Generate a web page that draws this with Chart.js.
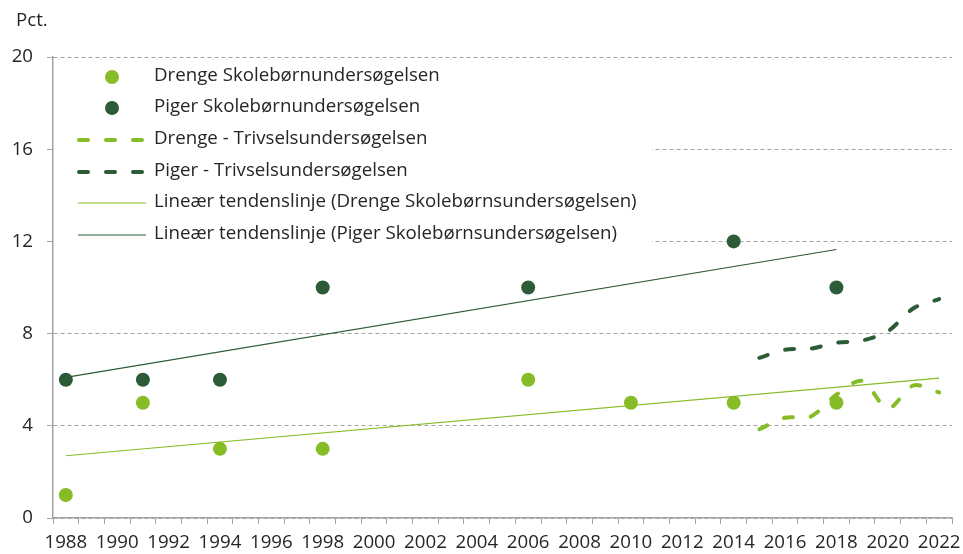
<!DOCTYPE html>
<html lang="da">
<head>
<meta charset="utf-8">
<title>Skolebørn og trivsel</title>
<script src="https://cdn.jsdelivr.net/npm/chart.js@4.4.1/dist/chart.umd.min.js"></script>
<style>
  html, body { margin: 0; padding: 0; background: #fff; }
  #wrap { width: 963px; height: 554px; }
</style>
</head>
<body>
<div id="wrap"><canvas id="chart" width="963" height="554"></canvas></div>
<script>
"use strict";

// survey years and values (pct.)
const skoleYears = [1988, 1991, 1994, 1998, 2006, 2010, 2014, 2018];
const drengeSkole = [1, 5, 3, 3, 6, 5, 5, 5];
const pigerSkoleYears = [1988, 1991, 1994, 1998, 2006, 2014, 2018];
const pigerSkole = [6, 6, 6, 10, 10, 12, 10];

const trivselYears = [2015, 2016, 2017, 2018, 2019, 2020, 2021, 2022];
const drengeTrivsel = [3.85, 4.35, 4.4, 5.35, 5.95, 4.75, 5.75, 5.45];
const pigerTrivsel = [6.95, 7.3, 7.35, 7.6, 7.7, 8.1, 9.1, 9.5];

// trend line end points
const drengeTrendYears = [1988, 2022];
const drengeTrend = [2.7, 6.07];
const pigerTrendYears = [1988, 2018];
const pigerTrend = [6.1, 11.65];

const xLabelYears = [1988, 1990, 1992, 1994, 1996, 1998, 2000, 2002, 2004, 2006,
  2008, 2010, 2012, 2014, 2016, 2018, 2020, 2022];
const yTicks = [0, 4, 8, 12, 16, 20];

const legendLabels = [
  "Drenge Skolebørnundersøgelsen",
  "Piger Skolebørnundersøgelsen",
  "Drenge - Trivselsundersøgelsen",
  "Piger - Trivselsundersøgelsen",
  "Lineær tendenslinje (Drenge Skolebørnsundersøgelsen)",
  "Lineær tendenslinje (Piger Skolebørnsundersøgelsen)",
];

const LIGHT = "#86BC25";
const DARK = "#2B5B37";
const AXIS = "#a3a3a3";
const TEXT = "#262626";
const FONT = "'Open Sans', 'Noto Sans', sans-serif";
const FSIZE = 18.7;
const DASH = [9, 18];

const pts = (xs, ys) => xs.map((x, i) => ({ x, y: ys[i] }));

// tick marks sit on the year boundaries, labels on the even years
const X_MIN = 1987.5, X_MAX = 2022.5;
const xTickValues = [];
for (let v = X_MIN; v <= X_MAX; v += 0.5) xTickValues.push(v);

const legendPlugin = {
  id: "boxLegend",
  beforeDatasetsDraw(chart) {
    const { ctx, chartArea } = chart;
    ctx.save();
    ctx.fillStyle = "#fff";
    ctx.fillRect(chartArea.left + 1, 62, 652 - chartArea.left - 1, 188);
    ctx.restore();
  },
  afterDraw(chart) {
    const { ctx } = chart;
    const rows = [76, 107, 139, 171, 202, 234];
    ctx.save();
    ctx.font = `${FSIZE}px ${FONT}`;
    ctx.fillStyle = TEXT;
    ctx.textBaseline = "middle";
    ctx.fillText("Pct.", 16, 21);
    legendLabels.forEach((label, i) => {
      const y = rows[i];
      const col = i % 2 === 0 ? LIGHT : DARK;
      if (i < 2) {
        ctx.beginPath();
        ctx.fillStyle = col;
        ctx.arc(112, y + 1, 7, 0, Math.PI * 2);
        ctx.fill();
      } else {
        ctx.beginPath();
        ctx.strokeStyle = col;
        if (i < 4) {
          ctx.lineWidth = 4;
          ctx.lineCap = "round";
          ctx.setLineDash(DASH);
          ctx.moveTo(79, y + 1);
          ctx.lineTo(146, y + 1);
        } else {
          ctx.lineWidth = 1.2;
          ctx.lineCap = "butt";
          ctx.setLineDash([]);
          ctx.moveTo(78, y + 1);
          ctx.lineTo(146, y + 1);
        }
        ctx.stroke();
        ctx.setLineDash([]);
      }
      ctx.fillStyle = TEXT;
      ctx.fillText(label, 154, y);
    });
    ctx.restore();
  },
};

new Chart(document.getElementById("chart"), {
  type: "scatter",
  data: {
    datasets: [
      { label: legendLabels[0], data: pts(skoleYears, drengeSkole), backgroundColor: LIGHT,
        borderWidth: 0, pointRadius: 7, showLine: false, order: 1 },
      { label: legendLabels[1], data: pts(pigerSkoleYears, pigerSkole), backgroundColor: DARK,
        borderWidth: 0, pointRadius: 7, showLine: false, order: 2 },
      { label: legendLabels[2], data: pts(trivselYears, drengeTrivsel), borderColor: LIGHT,
        borderWidth: 4, borderDash: DASH, borderCapStyle: "round", showLine: true,
        pointRadius: 0, tension: 0.3, order: 3 },
      { label: legendLabels[3], data: pts(trivselYears, pigerTrivsel), borderColor: DARK,
        borderWidth: 4, borderDash: DASH, borderCapStyle: "round", showLine: true,
        pointRadius: 0, tension: 0.3, order: 4 },
      { label: legendLabels[4], data: pts(drengeTrendYears, drengeTrend), borderColor: LIGHT,
        borderWidth: 1.2, showLine: true, pointRadius: 0, order: 5 },
      { label: legendLabels[5], data: pts(pigerTrendYears, pigerTrend), borderColor: DARK,
        borderWidth: 1.2, showLine: true, pointRadius: 0, order: 6 },
    ],
  },
  options: {
    responsive: false,
    animation: false,
    devicePixelRatio: 1,
    layout: { padding: { top: 57, right: 11, left: 0, bottom: 0 } },
    plugins: { legend: { display: false }, tooltip: { enabled: false } },
    scales: {
      x: {
        type: "linear",
        min: X_MIN,
        max: X_MAX,
        afterBuildTicks: (s) => { s.ticks = xTickValues.map((v) => ({ value: v })); },
        afterFit: (s) => { s.height = 36; },
        ticks: {
          autoSkip: false,
          maxRotation: 0,
          padding: 7,
          color: TEXT,
          font: { family: FONT, size: FSIZE },
          callback: (v) => (xLabelYears.includes(v) ? String(v) : ""),
        },
        grid: {
          drawOnChartArea: false,
          tickLength: 6,
          color: (c) => (c.tick && c.tick.value % 1 !== 0 ? AXIS : "rgba(0,0,0,0)"),
        },
        border: { color: AXIS, width: 1.5 },
      },
      y: {
        min: 0,
        max: 20,
        afterBuildTicks: (s) => { s.ticks = yTicks.map((v) => ({ value: v })); },
        afterFit: (s) => { s.width = 53; },
        ticks: {
          padding: 14,
          color: TEXT,
          font: { family: FONT, size: FSIZE },
        },
        grid: { color: AXIS, tickLength: 6, tickColor: AXIS, tickBorderDash: [] },
        border: { color: AXIS, width: 1.5, dash: [4, 3] },
      },
    },
  },
  plugins: [legendPlugin],
});
</script>
</body>
</html>
